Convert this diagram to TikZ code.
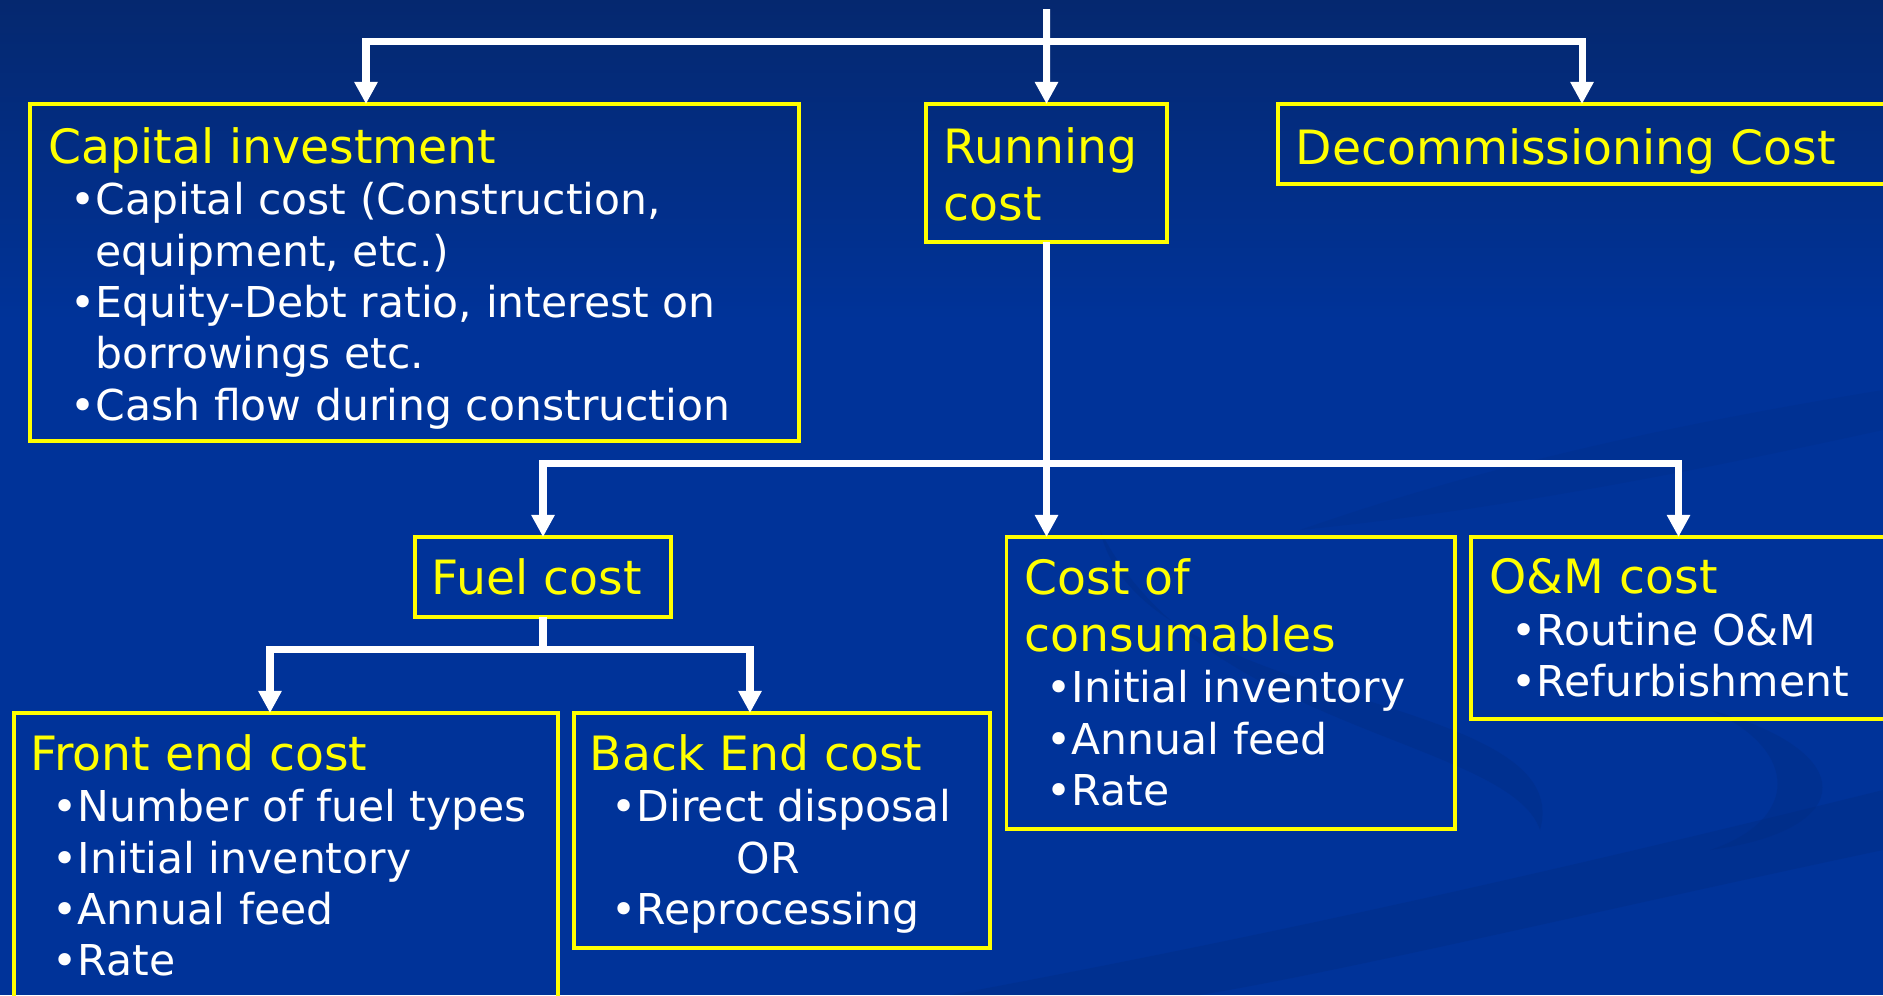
\documentclass[tikz,border=0pt]{standalone}
\usepackage{fontspec}
\setmainfont{DejaVu Sans}
\usepackage{tikz}
\usetikzlibrary{arrows.meta}
\definecolor{slideTop}{HTML}{05286F}
\definecolor{slideBlue}{HTML}{003399}
\definecolor{swirlBlue}{HTML}{002A7E}
\definecolor{boxYellow}{HTML}{FFFF00}

% heading line and bullet lines inside the boxes
\newcommand{\hd}[1]{{\color{boxYellow}\fontsize{13.45}{14.6}\selectfont #1}}
\newcommand{\itm}[1]{\hspace*{0.47cm}\llap{\textbullet}#1}
\newcommand{\cont}[1]{\hspace*{0.47cm}#1}

\begin{document}
\begin{tikzpicture}[
    box/.style={draw=boxYellow, line width=1pt, anchor=north west, inner sep=0pt, outer sep=0pt},
    body/.style={anchor=north west, inner sep=0pt, align=left, text=white,
                 font=\fontsize{12.1}{14.6}\selectfont},
    link/.style={draw=white, line width=2pt, -{Triangle[length=6.3pt,width=6.3pt]}},
    stem/.style={draw=white, line width=2pt},
    swirl/.style={fill=swirlBlue, opacity=0.3}
]
    \useasboundingbox (0,0) rectangle (18.83,-9.95);

    % background
    \shade[top color=slideTop, bottom color=slideBlue] (0,0) rectangle (18.83,-3.2);
    \fill[slideBlue] (0,-3.19) rectangle (18.83,-9.95);
    \fill[swirl] (9.5,-9.95) .. controls (13,-9.3) and (16,-8.6) .. (18.83,-7.9)
        -- (18.83,-8.5) .. controls (16,-9.1) and (13.5,-9.7) .. (12.0,-9.95) -- cycle;
    \fill[swirl] (11.0,-5.3) .. controls (11.4,-7.1) and (15.8,-6.9) .. (15.4,-8.3)
        .. controls (15.1,-7.4) and (12.0,-7.3) .. (11.0,-5.3) -- cycle;
    \fill[swirl] (17.1,-7.1) .. controls (18.6,-7.5) and (18.6,-8.3) .. (17.1,-8.5)
        .. controls (18.0,-8.2) and (18.0,-7.5) .. (17.1,-7.1) -- cycle;
    \fill[swirl, opacity=0.2] (13.0,-5.3) .. controls (15,-4.6) and (17,-4.2) .. (18.83,-3.9)
        -- (18.83,-4.3) .. controls (17,-4.7) and (15,-5.1) .. (13.0,-5.3) -- cycle;

    % boxes
    \node[box, minimum width=7.69cm, minimum height=3.37cm] (cap) at (0.30,-1.04) {};
    \node[box, minimum width=2.41cm, minimum height=1.38cm] (run) at (9.26,-1.04) {};
    \node[box, minimum width=6.08cm, minimum height=0.80cm] (decom) at (12.78,-1.04) {};
    \node[box, minimum width=2.56cm, minimum height=0.80cm] (fuel) at (4.15,-5.37) {};
    \node[box, minimum width=4.485cm, minimum height=2.92cm] (cons) at (10.065,-5.37) {};
    \node[box, minimum width=4.15cm, minimum height=1.82cm] (om) at (14.71,-5.37) {};
    \node[box, minimum width=5.44cm, minimum height=2.95cm] (front) at (0.14,-7.13) {};
    \node[box, minimum width=4.16cm, minimum height=2.35cm] (back) at (5.74,-7.13) {};

    % box texts
    \node[body] (capTxt) at (0.48,-1.27) {\hd{Capital investment}\\
        \itm{Capital cost (Construction,}\\ \cont{equipment, etc.)}\\
        \itm{Equity-Debt ratio, interest on}\\ \cont{borrowings etc.}\\
        \itm{Cash flow during construction}};
    \node[body] (runTxt) at (9.43,-1.27) {\hd{Running}\\[1.6pt] \hd{cost}};
    \node[body] (decomTxt) at (12.95,-1.28) {\hd{Decommissioning Cost}};
    \node[body] (fuelTxt) at (4.31,-5.58) {\hd{Fuel cost}};
    \node[body] (consTxt) at (10.24,-5.58) {\hd{Cost of}\\[1.6pt] \hd{consumables}\\
        \itm{Initial inventory}\\ \itm{Annual feed}\\ \itm{Rate}};
    \node[body] (omTxt) at (14.89,-5.58) {\hd{O\&M cost}\\
        \itm{Routine O\&M}\\ \itm{Refurbishment}};
    \node[body] (frontTxt) at (0.30,-7.34) {\hd{Front end cost}\\
        \itm{Number of fuel types}\\ \itm{Initial inventory}\\
        \itm{Annual feed}\\ \itm{Rate}};
    \node[body] (backTxt) at (5.89,-7.34) {\hd{Back End cost}\\
        \itm{Direct disposal}\\ \hspace*{1.47cm}OR\\ \itm{Reprocessing}};

    % connectors
    \coordinate (root) at (10.465,-0.09);
    \coordinate (hubTop) at (10.465,-0.415);
    \coordinate (hubMid) at (10.465,-4.63);
    \coordinate (hubLow) at (5.43,-6.49);

    \draw[link] (root) -- (run.north);
    \draw[link] (hubTop) -| ([xshift=-0.485cm]cap.north);
    \draw[link] (hubTop) -| (decom.north);

    \draw[link] (run.south) -- (run.south |- cons.north);
    \draw[link] (hubMid) -| (fuel.north);
    \draw[link] (hubMid) -| (om.north);

    \draw[stem] (fuel.south) -- (hubLow);
    \draw[link] (hubLow) -| ([xshift=-0.16cm]front.north);
    \draw[link] (hubLow) -| ([xshift=-0.32cm]back.north);
\end{tikzpicture}
\end{document}
